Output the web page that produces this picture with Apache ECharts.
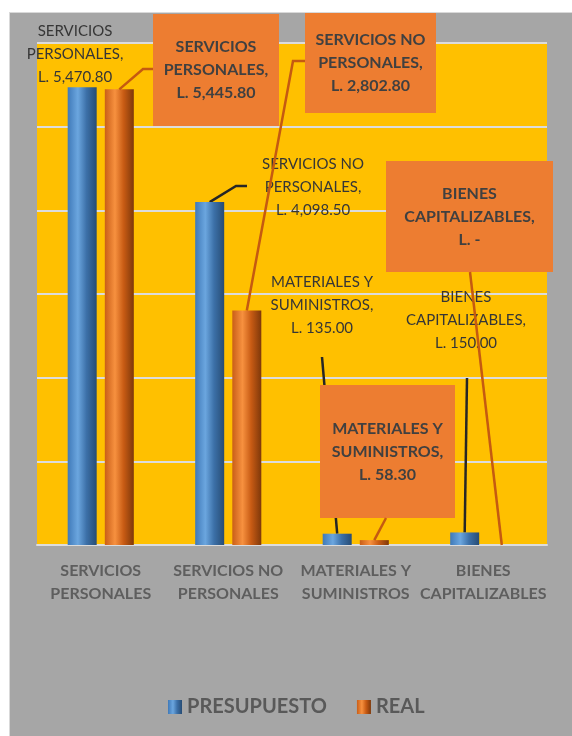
<!DOCTYPE html>
<html>
<head>
<meta charset="utf-8">
<script src="https://cdn.jsdelivr.net/npm/echarts@6/dist/echarts.min.js"></script>
<style>
  html, body { margin: 0; padding: 0; background: #fff; }
  .frame {
    position: absolute; left: 9px; top: 12px; right: 0; bottom: 0;
    background: #A6A6A6;
    border-top: 1px solid #D9D9D9;
    border-left: 1px solid #D9D9D9;
  }
  #chart { position: absolute; left: 0; top: 0; width: 572px; height: 736px; }
</style>
</head>
<body>
<div class="frame"></div>
<div id="chart"></div>
<script>
const categories = ['SERVICIOS\nPERSONALES', 'SERVICIOS NO\nPERSONALES', 'MATERIALES Y\nSUMINISTROS', 'BIENES\nCAPITALIZABLES']
const presupuesto = [5470.80, 4098.50, 135.00, 150.00]
const real = [5445.80, 2802.80, 58.30, 0]
const yMax = 6000
const yStep = 1000

// where the data labels sit (centre, page px) and the bends of their leader lines,
// relative to that centre; each line starts at the top of its bar
const presLabels = [
  { cx: 75, cy: 54, line: [] },
  { cx: 313, cy: 187, line: [[-77, -1], [-66, -1]] },
  { cx: 322, cy: 305, line: [[0, 52]] },
  { cx: 466, cy: 320, line: [[1, 58]] }
]
const realLabels = [
  { cx: 216, cy: 70, w: 126, h: 112, line: [[-73, -1], [-63, -1]] },
  { cx: 370.5, cy: 63, w: 131, h: 100, line: [[-77.5, -2], [-65.5, -2]] },
  { cx: 387.5, cy: 451.5, w: 135, h: 133, line: [[-1.5, 66.5]] },
  { cx: 469.5, cy: 216.5, w: 167, h: 111, line: [[0.5, 55.5]] }
]

const FONT = 'Lato, "Noto Sans", sans-serif'

const fmt = v => v === 0 ? '-' : v.toLocaleString('en-US', { minimumFractionDigits: 2, maximumFractionDigits: 2 })
const labelText = p => p.name + ',\nL. ' + fmt(p.value)

// bar rectangles as laid out by echarts, picked up while labels are placed
const barRects = [[], []]

function placeLabel(p, cfg) {
  barRects[p.seriesIndex][p.dataIndex] = p.rect
  const out = { x: cfg.cx, y: cfg.cy, align: 'center', verticalAlign: 'middle' }
  if (cfg.w) {
    out.width = cfg.w
    out.height = cfg.h
  }
  return out
}

// black leaders sit under the series (the orange boxes hide them), orange ones on top
function leaderLines() {
  const out = []
  const sets = [[presLabels, '#262626', 1], [realLabels, '#C55A11', 5]]
  sets.forEach(([cfgs, color, z], s) => {
    cfgs.forEach((cfg, i) => {
      const r = barRects[s][i]
      if (!cfg.line.length || !r) return
      const pts = [[r.x + r.width / 2, r.y]].concat(cfg.line.map(d => [cfg.cx + d[0], cfg.cy + d[1]]))
      out.push({
        type: 'polyline',
        silent: true,
        z: z,
        shape: { points: pts },
        style: { stroke: color, lineWidth: 2.5, fill: null }
      })
    })
  })
  return out
}

const blueFill = new echarts.graphic.LinearGradient(0, 0, 1, 0, [
  { offset: 0, color: '#3F79B8' },
  { offset: 0.35, color: '#6BA6DF' },
  { offset: 0.65, color: '#3C70A8' },
  { offset: 1, color: '#274C74' }
])
const orangeFill = new echarts.graphic.LinearGradient(0, 0, 1, 0, [
  { offset: 0, color: '#C95E18' },
  { offset: 0.35, color: '#F7913F' },
  { offset: 0.65, color: '#C85B14' },
  { offset: 1, color: '#7E380A' }
])

const chart = echarts.init(document.getElementById('chart'))

chart.setOption({
  backgroundColor: 'transparent',
  animation: false,
  textStyle: { fontFamily: FONT },
  grid: {
    left: 37, right: 25, top: 43, bottom: 191,
    show: true, backgroundColor: '#FFC000', borderWidth: 0
  },
  legend: {
    data: ['PRESUPUESTO', 'REAL'],
    left: 163,
    top: 692,
    icon: 'rect',
    itemWidth: 14,
    itemHeight: 14,
    itemGap: 30,
    textStyle: { color: '#595959', fontSize: 20, fontWeight: 'bold', fontFamily: FONT }
  },
  xAxis: {
    type: 'category',
    data: categories,
    axisLine: { lineStyle: { color: '#DCDCDC', width: 2 } },
    axisTick: { show: false },
    axisLabel: {
      interval: 0, color: '#5E5E5E', fontSize: 16, fontWeight: 'bold', lineHeight: 23,
      margin: 14, fontFamily: FONT
    }
  },
  yAxis: {
    type: 'value',
    min: 0,
    max: yMax,
    interval: yStep,
    axisLabel: { show: false },
    axisLine: { show: false },
    axisTick: { show: false },
    splitLine: { lineStyle: { color: '#DCDCDC', width: 2 } }
  },
  series: [
    {
      name: 'PRESUPUESTO',
      type: 'bar',
      data: presupuesto,
      barWidth: 29,
      barGap: '28%',
      itemStyle: { color: blueFill },
      label: {
        show: true, position: 'top', formatter: labelText,
        color: '#363636', fontSize: 15, lineHeight: 23, fontFamily: FONT
      },
      labelLayout: p => placeLabel(p, presLabels[p.dataIndex])
    },
    {
      name: 'REAL',
      type: 'bar',
      data: real,
      barWidth: 29,
      itemStyle: { color: orangeFill },
      label: {
        show: true, position: 'top', formatter: labelText,
        color: '#404040', fontSize: 16, lineHeight: 23, fontWeight: 'bold',
        fontFamily: FONT, backgroundColor: '#ED7D31'
      },
      labelLayout: p => placeLabel(p, realLabels[p.dataIndex])
    }
  ]
})

chart.setOption({ graphic: leaderLines() })
</script>
</body>
</html>
